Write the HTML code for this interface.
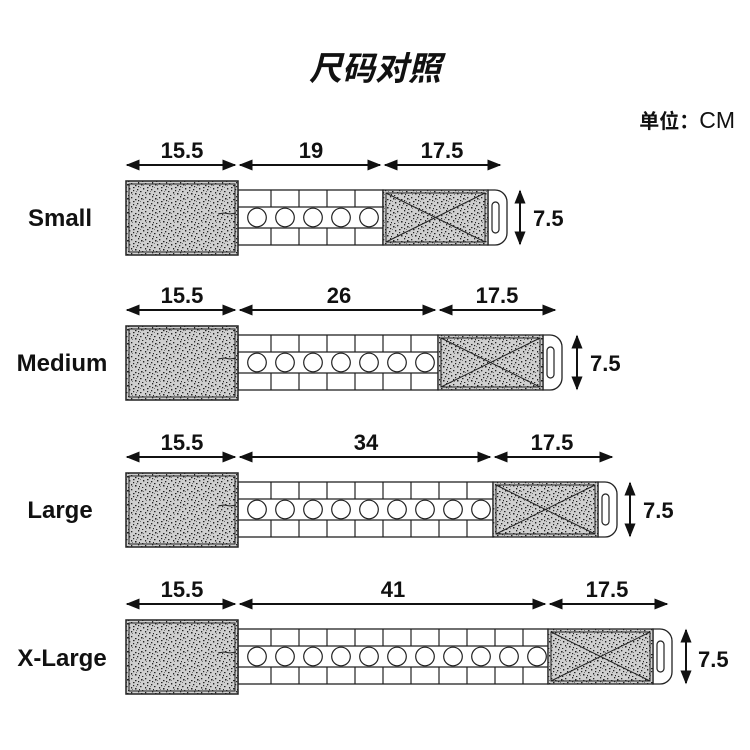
<!DOCTYPE html>
<html><head><meta charset="utf-8"><style>
html,body{margin:0;padding:0;background:#fff}
svg{display:block}
text{font-family:"Liberation Sans","Noto Sans CJK SC",sans-serif;fill:#111;font-weight:bold}
</style></head><body>
<svg width="750" height="750" viewBox="0 0 750 750" xmlns="http://www.w3.org/2000/svg">
<defs>
<pattern id="sp" width="14" height="14" patternUnits="userSpaceOnUse">
<rect width="14" height="14" fill="#cfcfcf"/>
<g fill="#222">
<rect x="1" y="2" width="1.5" height="1.5"/><rect x="5" y="1" width="1.3" height="1.3"/><rect x="9" y="3" width="1.5" height="1.2"/>
<rect x="12" y="0" width="1.2" height="1.4"/><rect x="3" y="6" width="1.3" height="1.5"/><rect x="7" y="5" width="1.5" height="1.2"/>
<rect x="11" y="7" width="1.3" height="1.3"/><rect x="0" y="9" width="1.5" height="1.2"/><rect x="5" y="10" width="1.2" height="1.5"/>
<rect x="9" y="11" width="1.5" height="1.5"/><rect x="13" y="12" width="1" height="1.2"/><rect x="2" y="13" width="1.3" height="1"/>
<rect x="7" y="8" width="1.2" height="1.2"/><rect x="12" y="4" width="1.2" height="1.2"/>
</g>
<g fill="#777">
<rect x="3" y="3" width="1" height="1"/><rect x="10" y="9" width="1" height="1"/><rect x="6" y="12" width="1" height="1"/><rect x="0" y="5" width="1" height="1"/>
</g>
</pattern>
<marker id="ah" viewBox="0 0 10 10" refX="9" refY="5" markerWidth="7" markerHeight="7" orient="auto-start-reverse">
<path d="M0,1 L10,5 L0,9 Z" fill="#111"/>
</marker>
<g id="u" stroke="#222" stroke-width="1.2" fill="#fff">
<circle cx="0" cy="27.5" r="9.3"/>
<line x1="14" y1="0" x2="14" y2="17"/>
<line x1="14" y1="38" x2="14" y2="55"/>
</g>
<g id="lb">
<rect x="126" y="181" width="112" height="74" fill="url(#sp)" stroke="#222" stroke-width="1.5"/>
<rect x="129" y="184" width="106" height="68" fill="none" stroke="#222" stroke-width="1"/>
<path d="M218 214 l6 -1 l6 1 l6 -1" stroke="#222" fill="none" stroke-width="1"/>
</g>
</defs>

<text x="375" y="80" font-size="33" font-style="italic" text-anchor="middle" font-family="'Noto Sans CJK SC',sans-serif">尺码对照</text>
<text x="735" y="128" font-size="20" text-anchor="end">单位：<tspan font-size="23" font-weight="normal">CM</tspan></text>

<!-- Small -->
<g>
<text x="60" y="226" font-size="24" text-anchor="middle">Small</text>
<g font-size="22" text-anchor="middle"><text x="182" y="158">15.5</text><text x="311" y="158">19</text><text x="442" y="158">17.5</text></g>
<g stroke="#111" stroke-width="2" marker-start="url(#ah)" marker-end="url(#ah)">
<line x1="127" y1="165" x2="235" y2="165"/><line x1="240" y1="165" x2="380" y2="165"/><line x1="385" y1="165" x2="500" y2="165"/>
<line x1="520" y1="191" x2="520" y2="244"/></g>
<text x="533" y="226" font-size="22">7.5</text>
<rect x="238" y="190" width="145" height="55" fill="#fff" stroke="#222" stroke-width="1.3"/>
<path d="M238 207H383M238 228H383" stroke="#222" stroke-width="1.2"/>
<use href="#u" x="257" y="190"/><use href="#u" x="285" y="190"/><use href="#u" x="313" y="190"/><use href="#u" x="341" y="190"/><use href="#u" x="369" y="190"/>
<use href="#lb"/>
<path d="M488 190H495A12 12 0 0 1 507 202V233A12 12 0 0 1 495 245H488Z" fill="#fff" stroke="#222" stroke-width="1.3"/>
<rect x="492" y="202" width="7" height="31" rx="3.5" fill="#fff" stroke="#222" stroke-width="1.2"/>
<rect x="383" y="190" width="105" height="55" fill="url(#sp)" stroke="#222" stroke-width="1.3"/>
<rect x="386" y="193" width="99" height="49" fill="none" stroke="#222" stroke-width="1"/>
<path d="M386 193L485 242M485 193L386 242" stroke="#222" stroke-width="1"/>
</g>

<!-- Medium -->
<g transform="translate(0,145)">
<text x="62" y="226" font-size="24" text-anchor="middle">Medium</text>
<g font-size="22" text-anchor="middle"><text x="182" y="158">15.5</text><text x="339" y="158">26</text><text x="497" y="158">17.5</text></g>
<g stroke="#111" stroke-width="2" marker-start="url(#ah)" marker-end="url(#ah)">
<line x1="127" y1="165" x2="235" y2="165"/><line x1="240" y1="165" x2="435" y2="165"/><line x1="440" y1="165" x2="555" y2="165"/>
<line x1="577" y1="191" x2="577" y2="244"/></g>
<text x="590" y="226" font-size="22">7.5</text>
<rect x="238" y="190" width="200" height="55" fill="#fff" stroke="#222" stroke-width="1.3"/>
<path d="M238 207H438M238 228H438" stroke="#222" stroke-width="1.2"/>
<use href="#u" x="257" y="190"/><use href="#u" x="285" y="190"/><use href="#u" x="313" y="190"/><use href="#u" x="341" y="190"/><use href="#u" x="369" y="190"/><use href="#u" x="397" y="190"/><use href="#u" x="425" y="190"/>
<use href="#lb"/>
<path d="M543 190H550A12 12 0 0 1 562 202V233A12 12 0 0 1 550 245H543Z" fill="#fff" stroke="#222" stroke-width="1.3"/>
<rect x="547" y="202" width="7" height="31" rx="3.5" fill="#fff" stroke="#222" stroke-width="1.2"/>
<rect x="438" y="190" width="105" height="55" fill="url(#sp)" stroke="#222" stroke-width="1.3"/>
<rect x="441" y="193" width="99" height="49" fill="none" stroke="#222" stroke-width="1"/>
<path d="M441 193L540 242M540 193L441 242" stroke="#222" stroke-width="1"/>
</g>

<!-- Large -->
<g transform="translate(0,292)">
<text x="60" y="226" font-size="24" text-anchor="middle">Large</text>
<g font-size="22" text-anchor="middle"><text x="182" y="158">15.5</text><text x="366" y="158">34</text><text x="552" y="158">17.5</text></g>
<g stroke="#111" stroke-width="2" marker-start="url(#ah)" marker-end="url(#ah)">
<line x1="127" y1="165" x2="235" y2="165"/><line x1="240" y1="165" x2="490" y2="165"/><line x1="495" y1="165" x2="612" y2="165"/>
<line x1="630" y1="191" x2="630" y2="244"/></g>
<text x="643" y="226" font-size="22">7.5</text>
<rect x="238" y="190" width="255" height="55" fill="#fff" stroke="#222" stroke-width="1.3"/>
<path d="M238 207H493M238 228H493" stroke="#222" stroke-width="1.2"/>
<use href="#u" x="257" y="190"/><use href="#u" x="285" y="190"/><use href="#u" x="313" y="190"/><use href="#u" x="341" y="190"/><use href="#u" x="369" y="190"/><use href="#u" x="397" y="190"/><use href="#u" x="425" y="190"/><use href="#u" x="453" y="190"/><use href="#u" x="481" y="190"/>
<use href="#lb"/>
<path d="M598 190H605A12 12 0 0 1 617 202V233A12 12 0 0 1 605 245H598Z" fill="#fff" stroke="#222" stroke-width="1.3"/>
<rect x="602" y="202" width="7" height="31" rx="3.5" fill="#fff" stroke="#222" stroke-width="1.2"/>
<rect x="493" y="190" width="105" height="55" fill="url(#sp)" stroke="#222" stroke-width="1.3"/>
<rect x="496" y="193" width="99" height="49" fill="none" stroke="#222" stroke-width="1"/>
<path d="M496 193L595 242M595 193L496 242" stroke="#222" stroke-width="1"/>
</g>

<!-- X-Large -->
<g transform="translate(0,439)">
<text x="62" y="227" font-size="24" text-anchor="middle">X-Large</text>
<g font-size="22" text-anchor="middle"><text x="182" y="158">15.5</text><text x="393" y="158">41</text><text x="607" y="158">17.5</text></g>
<g stroke="#111" stroke-width="2" marker-start="url(#ah)" marker-end="url(#ah)">
<line x1="127" y1="165" x2="235" y2="165"/><line x1="240" y1="165" x2="545" y2="165"/><line x1="550" y1="165" x2="667" y2="165"/>
<line x1="686" y1="191" x2="686" y2="244"/></g>
<text x="698" y="228" font-size="22">7.5</text>
<rect x="238" y="190" width="310" height="55" fill="#fff" stroke="#222" stroke-width="1.3"/>
<path d="M238 207H548M238 228H548" stroke="#222" stroke-width="1.2"/>
<use href="#u" x="257" y="190"/><use href="#u" x="285" y="190"/><use href="#u" x="313" y="190"/><use href="#u" x="341" y="190"/><use href="#u" x="369" y="190"/><use href="#u" x="397" y="190"/><use href="#u" x="425" y="190"/><use href="#u" x="453" y="190"/><use href="#u" x="481" y="190"/><use href="#u" x="509" y="190"/><use href="#u" x="537" y="190"/>
<use href="#lb"/>
<path d="M653 190H660A12 12 0 0 1 672 202V233A12 12 0 0 1 660 245H653Z" fill="#fff" stroke="#222" stroke-width="1.3"/>
<rect x="657" y="202" width="7" height="31" rx="3.5" fill="#fff" stroke="#222" stroke-width="1.2"/>
<rect x="548" y="190" width="105" height="55" fill="url(#sp)" stroke="#222" stroke-width="1.3"/>
<rect x="551" y="193" width="99" height="49" fill="none" stroke="#222" stroke-width="1"/>
<path d="M551 193L650 242M650 193L551 242" stroke="#222" stroke-width="1"/>
</g>
</svg>
</body></html>
